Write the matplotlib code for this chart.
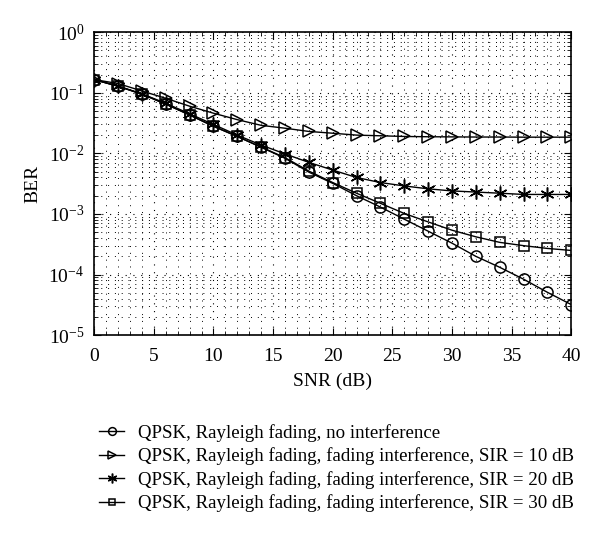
import matplotlib
import matplotlib.pyplot as plt
from matplotlib.ticker import MultipleLocator, LogLocator, NullFormatter

snr = [0, 2, 4, 6, 8, 10, 12, 14, 16, 18, 20, 22, 24, 26, 28, 30, 32, 34, 36, 38, 40]

ber_no_int = [0.165, 0.128, 0.095, 0.065, 0.043, 0.028, 0.019, 0.0126, 0.0083, 0.0049,
              0.0032, 0.0020, 0.0013, 0.00082, 0.00052, 0.00033, 0.00020, 0.000132,
              8.4e-5, 5.1e-5, 3.2e-5]
ber_sir10 = [0.165, 0.142, 0.107, 0.081, 0.060, 0.046, 0.036, 0.029, 0.026, 0.023,
             0.0215, 0.020, 0.0195, 0.019, 0.0188, 0.0187, 0.0186, 0.0186, 0.0185,
             0.0185, 0.0185]
ber_sir20 = [0.165, 0.129, 0.096, 0.067, 0.045, 0.030, 0.020, 0.0137, 0.0098, 0.0071,
             0.0053, 0.0040, 0.0033, 0.0029, 0.0026, 0.0024, 0.0023, 0.0022, 0.0021,
             0.0021, 0.0021]
ber_sir30 = [0.165, 0.128, 0.095, 0.065, 0.043, 0.028, 0.019, 0.0127, 0.0085, 0.0051,
             0.0033, 0.0022, 0.0015, 0.00102, 0.00074, 0.00054, 0.00042, 0.00034,
             0.00030, 0.00027, 0.00025]

labels = [
    "QPSK, Rayleigh fading, no interference",
    "QPSK, Rayleigh fading, fading interference, SIR = 10 dB",
    "QPSK, Rayleigh fading, fading interference, SIR = 20 dB",
    "QPSK, Rayleigh fading, fading interference, SIR = 30 dB",
]

matplotlib.rc('font', family='Liberation Serif', size=14)
matplotlib.rc('mathtext', fontset='custom', rm='Liberation Serif', it='Liberation Serif:italic')

fig = plt.figure(figsize=(6, 5.45), dpi=100)
ax = fig.add_axes([0.157, 0.385, 0.795, 0.556])

common = dict(color='black', linewidth=1.0, markerfacecolor='none',
              markeredgecolor='black', markeredgewidth=1.1)
ax.plot(snr, ber_no_int, marker='o', markersize=8, label=labels[0], **common)
ax.plot(snr, ber_sir10, marker='>', markersize=9, label=labels[1], **common)
ax.plot(snr, ber_sir20, marker=(6, 2, 0), markersize=10, label=labels[2], **common)
ax.plot(snr, ber_sir30, marker='s', markersize=7, label=labels[3], **common)

ax.set_yscale('log')
ax.set_xlim(0, 40)
ax.set_ylim(1e-5, 1)
ax.xaxis.set_major_locator(MultipleLocator(5))
ax.xaxis.set_minor_locator(MultipleLocator(1))
ax.yaxis.set_major_locator(LogLocator(base=10, numticks=10))
ax.yaxis.set_minor_locator(LogLocator(base=10, subs=range(2, 10), numticks=10))
ax.yaxis.set_minor_formatter(NullFormatter())

ax.grid(True, which='major', linestyle=(0, (1, 6)), color='black', linewidth=0.8)
ax.grid(True, which='minor', linestyle=(0, (1, 6)), color='black', linewidth=0.7)
ax.tick_params(which='both', direction='in', top=True, right=True)
ax.tick_params(axis='x', which='minor', length=0)
ax.tick_params(which='major', length=5)
ax.tick_params(which='minor', length=3)
ax.tick_params(axis='x', pad=9)
ax.tick_params(axis='y', pad=7)
for s in ax.spines.values():
    s.set_linewidth(1.2)

ax.set_xlabel("SNR (dB)", labelpad=6)
ax.set_ylabel("BER", labelpad=5)

fig.legend(loc='upper left', bbox_to_anchor=(0.152, 0.236), frameon=False,
           fontsize=13.6, handlelength=1.35, handletextpad=0.75, labelspacing=0.3,
           borderaxespad=0, markerscale=0.7)

fig.savefig("out.png", dpi=100)
